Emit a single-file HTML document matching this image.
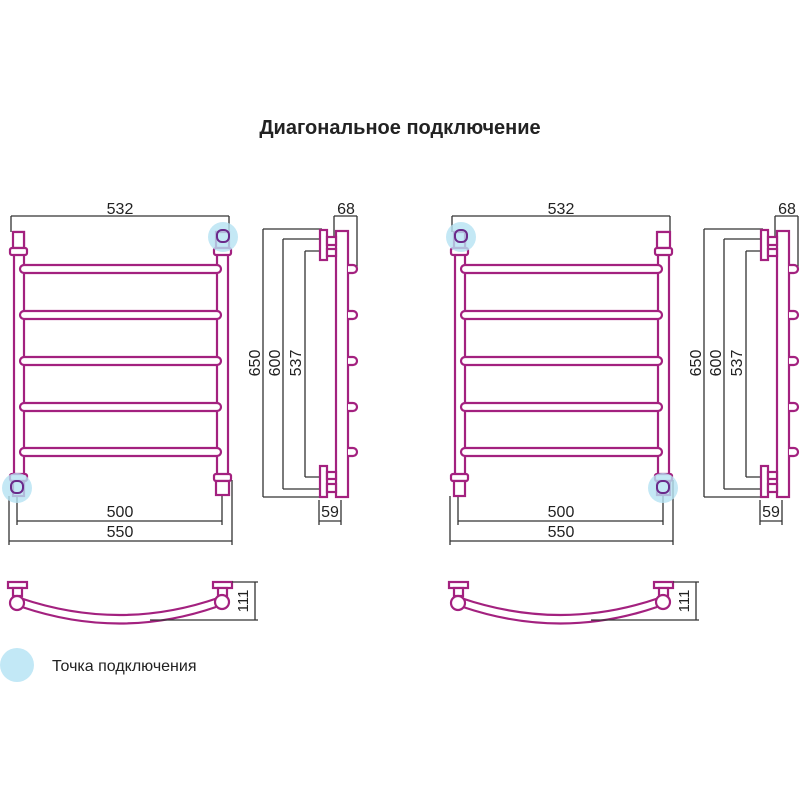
<!DOCTYPE html>
<html><head><meta charset="utf-8"><style>
html,body{margin:0;padding:0;background:#fff}
svg{display:block}
text{font-family:"Liberation Sans",sans-serif;fill:#222}
</style></head><body>
<svg width="800" height="800" viewBox="0 0 800 800" xmlns="http://www.w3.org/2000/svg">
<defs>
<g id="rad">
  <g stroke="#333" stroke-width="1.3" fill="none">
    <path d="M11 216H229M11 216V232M229 216V232"/>
    <path d="M17 521H222M17 492V525M222 494V525"/>
    <path d="M9 541H232M9 496V545M232 480V545"/>
    <path d="M263 229V497M263 229H322M263 497H322"/>
    <path d="M283 239V489M283 239H322M283 489H322"/>
    <path d="M305 251V477M305 251H322M305 477H322"/>
    <path d="M334 216H357M334 216V238M357 216V270"/>
    <path d="M319 521H341M319 500V525M341 500V525"/>
  </g>
  <g font-size="16" text-anchor="middle">
    <text x="120" y="214">532</text>
    <text x="120" y="517">500</text>
    <text x="120" y="537">550</text>
    <text x="346" y="214">68</text>
    <text x="330" y="517">59</text>
    <text transform="translate(260,363) rotate(-90)">650</text>
    <text transform="translate(280,363) rotate(-90)">600</text>
    <text transform="translate(301,363) rotate(-90)">537</text>
  </g>
  <g stroke="#a3217f" stroke-width="2.2" fill="#fff">
    <rect x="14" y="232" width="10" height="250"/>
    <rect x="217" y="232" width="11" height="250"/>
    <rect x="20" y="265" width="201" height="8" rx="4"/>
    <rect x="20" y="311" width="201" height="8" rx="4"/>
    <rect x="20" y="357" width="201" height="8" rx="4"/>
    <rect x="20" y="403" width="201" height="8" rx="4"/>
    <rect x="20" y="448" width="201" height="8" rx="4"/>
    <rect x="13" y="232" width="11" height="16"/>
    <rect x="216" y="232" width="13" height="16"/>
    <rect x="10" y="248" width="17" height="7" rx="2"/>
    <rect x="214" y="248" width="17" height="7" rx="2"/>
    <rect x="10" y="474" width="17" height="7" rx="2"/>
    <rect x="214" y="474" width="17" height="7" rx="2"/>
    <rect x="13" y="481" width="11" height="15"/>
    <rect x="216" y="481" width="13" height="14"/>
  </g>
  <g stroke="#a3217f" stroke-width="2.2" fill="#fff">
    <rect x="336" y="231" width="12" height="266"/>
    <path d="M348 265h5a4 4 0 0 1 0 8h-5M348 311h5a4 4 0 0 1 0 8h-5M348 357h5a4 4 0 0 1 0 8h-5M348 403h5a4 4 0 0 1 0 8h-5M348 448h5a4 4 0 0 1 0 8h-5"/>
    <rect x="320" y="230" width="7" height="30"/>
    <rect x="327" y="237" width="9" height="8"/>
    <rect x="327" y="249" width="9" height="7"/>
    <rect x="320" y="466" width="7" height="31"/>
    <rect x="327" y="472" width="9" height="7"/>
    <rect x="327" y="484" width="9" height="8"/>
  </g>
  <g stroke="#a3217f" stroke-width="2.2" fill="none">
    <path d="M20 598Q120 632 218 598"/>
    <path d="M22 607Q120 640 216 607"/>
    <rect x="8" y="582" width="19" height="6" fill="#fff"/>
    <rect x="213" y="582" width="19" height="6" fill="#fff"/>
    <rect x="13" y="588" width="9" height="8" fill="#fff"/>
    <rect x="218" y="588" width="9" height="8" fill="#fff"/>
    <circle cx="17" cy="603" r="7" fill="#fff"/>
    <circle cx="222" cy="602" r="7" fill="#fff"/>
  </g>
  <g stroke="#333" stroke-width="1.3" fill="none">
    <path d="M232 582H258M150 620H258M255 582V620"/>
  </g>
  <text font-size="15" text-anchor="middle" transform="translate(248,601) rotate(-90)">111</text>
</g>
<g id="knob">
  <circle r="15" fill="#b5e2f3" fill-opacity="0.8"/>
  <rect x="-6" y="-7" width="12" height="12" rx="5" fill="none" stroke="#6a2a8a" stroke-width="2"/>
</g>
</defs>
<text x="400" y="134" font-size="20" font-weight="bold" text-anchor="middle">Диагональное подключение</text>
<use href="#rad"/>
<use href="#rad" transform="translate(441,0)"/>
<use href="#knob" transform="translate(223,237)"/>
<use href="#knob" transform="translate(17,488)"/>
<use href="#knob" transform="translate(461,237)"/>
<use href="#knob" transform="translate(663,488)"/>
<circle cx="17" cy="665" r="17" fill="#c2e8f6"/>
<text x="52" y="671" font-size="16">Точка подключения</text>
</svg>
</body></html>
